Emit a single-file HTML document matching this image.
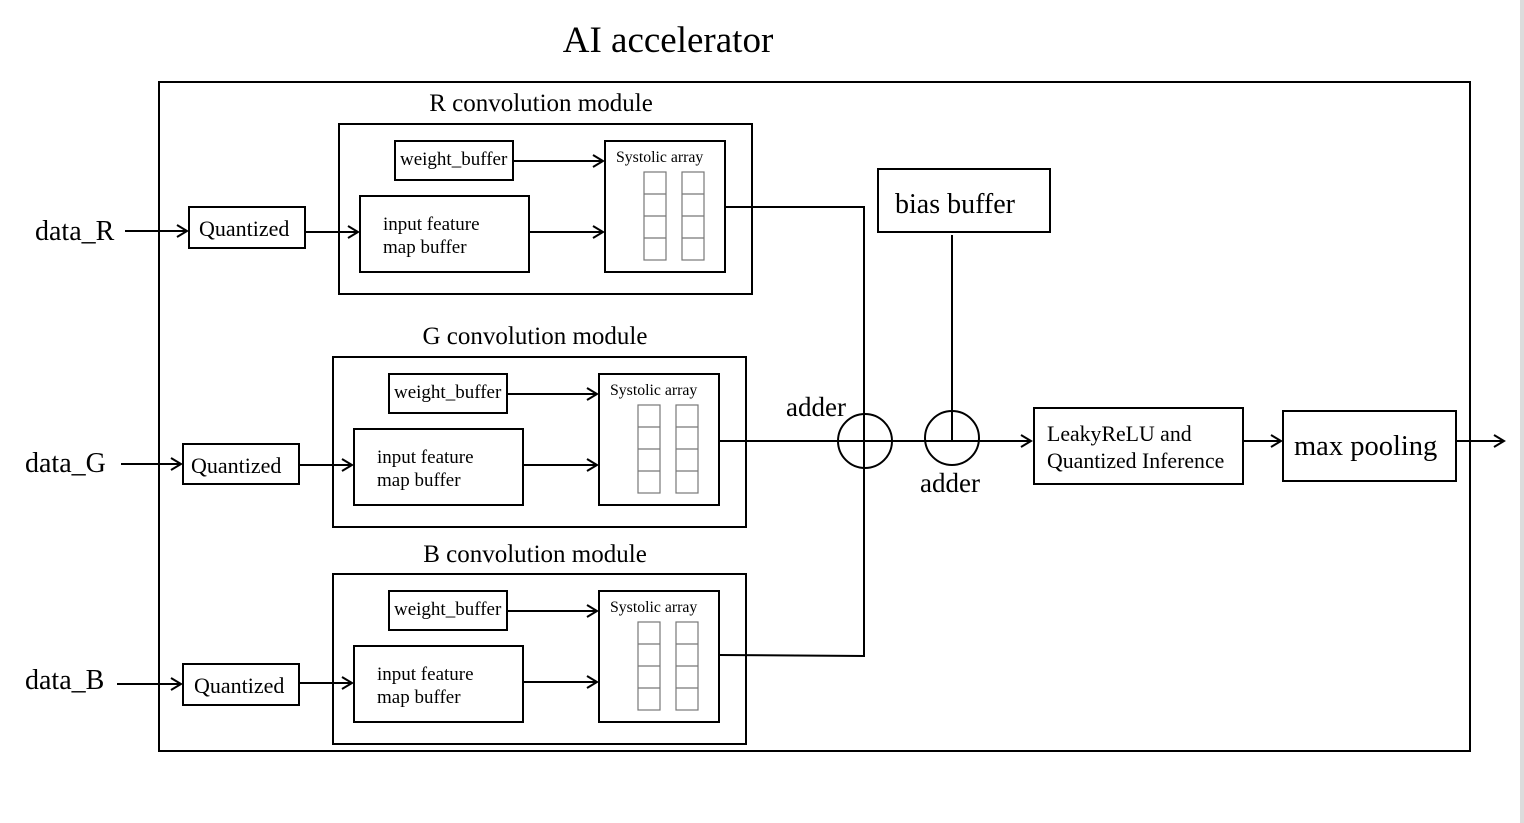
<!DOCTYPE html>
<html><head><meta charset="utf-8"><style>
html,body{margin:0;padding:0;background:#fff;width:1524px;height:823px;overflow:hidden}
svg{display:block}
text{font-family:"Liberation Serif",serif;fill:#000}
</style></head><body>
<svg width="1524" height="823" viewBox="0 0 1524 823">
<defs>
<marker id="a" markerWidth="14" markerHeight="14" refX="12" refY="7" orient="auto" markerUnits="userSpaceOnUse">
<path d="M2,1 L12,7 L2,13" fill="none" stroke="#000" stroke-width="2"/>
</marker>
</defs>
<rect x="1520" y="0" width="4" height="823" fill="#dcdcdc"/>
<text x="668" y="52" font-size="37" text-anchor="middle">AI accelerator</text>
<g fill="none" stroke="#000" stroke-width="2">
<rect x="159" y="82" width="1311" height="669"/>
</g>

<!-- R module -->
<g id="R">
<text x="541" y="111" font-size="25" text-anchor="middle">R convolution module</text>
<g fill="none" stroke="#000" stroke-width="2">
<rect x="339" y="124" width="413" height="170"/>
<rect x="395" y="141" width="118" height="39"/>
<rect x="605" y="141" width="120" height="131"/>
<rect x="360" y="196" width="169" height="76"/>
<rect x="189" y="207" width="116" height="41"/>
<line x1="513" y1="161" x2="603" y2="161" marker-end="url(#a)"/>
<line x1="529" y1="232" x2="603" y2="232" marker-end="url(#a)"/>
<line x1="305" y1="232" x2="358" y2="232" marker-end="url(#a)"/>
<line x1="125" y1="231" x2="187" y2="231" marker-end="url(#a)"/>
</g>
<g fill="none" stroke="#777" stroke-width="1.2">
<rect x="644" y="172" width="22" height="88"/><line x1="644" y1="194" x2="666" y2="194"/><line x1="644" y1="216" x2="666" y2="216"/><line x1="644" y1="238" x2="666" y2="238"/>
<rect x="682" y="172" width="22" height="88"/><line x1="682" y1="194" x2="704" y2="194"/><line x1="682" y1="216" x2="704" y2="216"/><line x1="682" y1="238" x2="704" y2="238"/>
</g>
<text x="400" y="165" font-size="19">weight_buffer</text>
<text x="616" y="162" font-size="15.8">Systolic array</text>
<text x="383" y="230" font-size="19">input feature</text>
<text x="383" y="253" font-size="19">map buffer</text>
<text x="199" y="236" font-size="22">Quantized</text>
<text x="35" y="240" font-size="28">data_R</text>
</g>

<!-- G module -->
<g transform="translate(-6,233)">
<text x="541" y="111" font-size="25" text-anchor="middle">G convolution module</text>
<g fill="none" stroke="#000" stroke-width="2">
<rect x="339" y="124" width="413" height="170"/>
<rect x="395" y="141" width="118" height="39"/>
<rect x="605" y="141" width="120" height="131"/>
<rect x="360" y="196" width="169" height="76"/>
<line x1="513" y1="161" x2="603" y2="161" marker-end="url(#a)"/>
<line x1="529" y1="232" x2="603" y2="232" marker-end="url(#a)"/>
</g>
<g fill="none" stroke="#777" stroke-width="1.2">
<rect x="644" y="172" width="22" height="88"/><line x1="644" y1="194" x2="666" y2="194"/><line x1="644" y1="216" x2="666" y2="216"/><line x1="644" y1="238" x2="666" y2="238"/>
<rect x="682" y="172" width="22" height="88"/><line x1="682" y1="194" x2="704" y2="194"/><line x1="682" y1="216" x2="704" y2="216"/><line x1="682" y1="238" x2="704" y2="238"/>
</g>
<text x="400" y="165" font-size="19">weight_buffer</text>
<text x="616" y="162" font-size="15.8">Systolic array</text>
<text x="383" y="230" font-size="19">input feature</text>
<text x="383" y="253" font-size="19">map buffer</text>
</g>
<g fill="none" stroke="#000" stroke-width="2">
<rect x="183" y="444" width="116" height="40"/>
<line x1="299" y1="465" x2="352" y2="465" marker-end="url(#a)"/>
<line x1="121" y1="464" x2="181" y2="464" marker-end="url(#a)"/>
</g>
<text x="191" y="473" font-size="22">Quantized</text>
<text x="25" y="472" font-size="28">data_G</text>

<!-- B module -->
<g transform="translate(-6,450)">
<text x="541" y="112" font-size="25" text-anchor="middle">B convolution module</text>
<g fill="none" stroke="#000" stroke-width="2">
<rect x="339" y="124" width="413" height="170"/>
<rect x="395" y="141" width="118" height="39"/>
<rect x="605" y="141" width="120" height="131"/>
<rect x="360" y="196" width="169" height="76"/>
<line x1="513" y1="161" x2="603" y2="161" marker-end="url(#a)"/>
<line x1="529" y1="232" x2="603" y2="232" marker-end="url(#a)"/>
</g>
<g fill="none" stroke="#777" stroke-width="1.2">
<rect x="644" y="172" width="22" height="88"/><line x1="644" y1="194" x2="666" y2="194"/><line x1="644" y1="216" x2="666" y2="216"/><line x1="644" y1="238" x2="666" y2="238"/>
<rect x="682" y="172" width="22" height="88"/><line x1="682" y1="194" x2="704" y2="194"/><line x1="682" y1="216" x2="704" y2="216"/><line x1="682" y1="238" x2="704" y2="238"/>
</g>
<text x="400" y="165" font-size="19">weight_buffer</text>
<text x="616" y="162" font-size="15.8">Systolic array</text>
<text x="383" y="230" font-size="19">input feature</text>
<text x="383" y="253" font-size="19">map buffer</text>
</g>
<g fill="none" stroke="#000" stroke-width="2">
<rect x="183" y="664" width="116" height="41"/>
<line x1="299" y1="683" x2="352" y2="683" marker-end="url(#a)"/>
<line x1="117" y1="684" x2="181" y2="684" marker-end="url(#a)"/>
</g>
<text x="194" y="693" font-size="22">Quantized</text>
<text x="25" y="689" font-size="28">data_B</text>

<!-- summing path -->
<g fill="none" stroke="#000" stroke-width="2">
<polyline points="725,207 864,207 864,656 719,655"/>
<line x1="719" y1="441" x2="1031" y2="441" marker-end="url(#a)"/>
<circle cx="865" cy="441" r="27"/>
<circle cx="952" cy="438" r="27"/>
<rect x="878" y="169" width="172" height="63"/>
<line x1="952" y1="235" x2="952" y2="440"/>
<rect x="1034" y="408" width="209" height="76"/>
<rect x="1283" y="411" width="173" height="70"/>
<line x1="1243" y1="441" x2="1281" y2="441" marker-end="url(#a)"/>
<line x1="1456" y1="441" x2="1504" y2="441" marker-end="url(#a)"/>
</g>
<text x="895" y="213" font-size="28">bias buffer</text>
<text x="816" y="416" font-size="27" text-anchor="middle">adder</text>
<text x="950" y="492" font-size="27" text-anchor="middle">adder</text>
<text x="1047" y="441" font-size="21.8">LeakyReLU and</text>
<text x="1047" y="468" font-size="21.8">Quantized Inference</text>
<text x="1294" y="455" font-size="28.5">max pooling</text>
</svg>
</body></html>
